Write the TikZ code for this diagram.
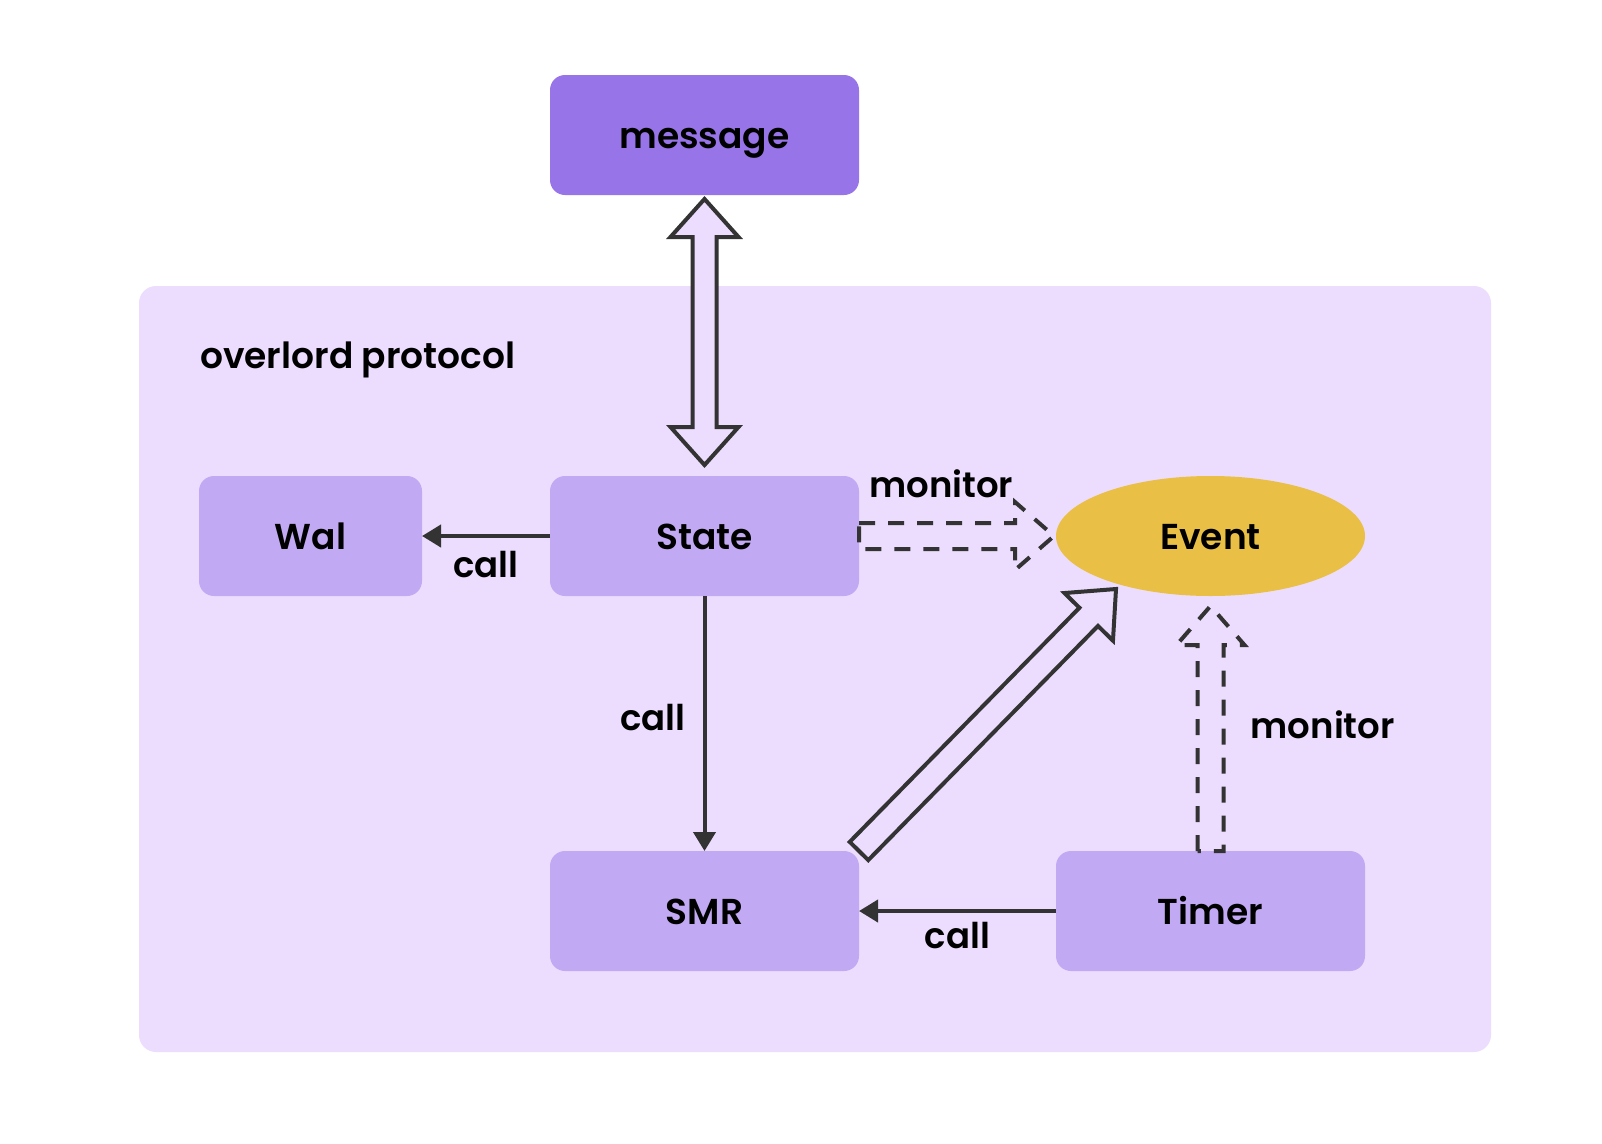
\documentclass[tikz,border=0pt]{standalone}
\usepackage{fontspec}
\setmainfont{Poppins SemiBold}
\usetikzlibrary{calc}
\usetikzlibrary{arrows.meta}
\usetikzlibrary{shapes.geometric}

\definecolor{panelbg}{HTML}{ECDDFE}
\definecolor{boxbg}{HTML}{C2A9F3}
\definecolor{msgbg}{HTML}{9775E8}
\definecolor{eventbg}{HTML}{E9BF45}
\definecolor{linegray}{HTML}{333333}

\newcommand{\boxfont}{\fontsize{36}{44}\selectfont}
\newcommand{\edgefont}{\fontsize{35.5}{42}\selectfont}

% hollow arrow from #2 to #3
\newcommand{\fatarrow}[3][]{%
  \coordinate (fa s) at (#2);
  \coordinate (fa e) at (#3);
  \coordinate (fa b) at ($(fa e)!39pt!(fa s)$);
  \draw[#1] ($(fa s)!13pt!90:(fa e)$) -- ($(fa b)!13pt!-90:(fa s)$) -- ($(fa b)!34pt!-90:(fa s)$)
    -- (fa e) -- ($(fa b)!34pt!90:(fa s)$) -- ($(fa b)!13pt!90:(fa s)$) -- ($(fa s)!13pt!-90:(fa e)$) -- cycle;
}
% hollow arrow with two heads
\newcommand{\fatdarrow}[3][]{%
  \coordinate (fa s) at (#2);
  \coordinate (fa e) at (#3);
  \coordinate (fa bs) at ($(fa s)!38pt!(fa e)$);
  \coordinate (fa be) at ($(fa e)!38pt!(fa s)$);
  \draw[#1] (fa s) -- ($(fa bs)!34pt!90:(fa e)$) -- ($(fa bs)!12pt!90:(fa e)$) -- ($(fa be)!12pt!-90:(fa s)$)
    -- ($(fa be)!34pt!-90:(fa s)$) -- (fa e) -- ($(fa be)!34pt!90:(fa s)$) -- ($(fa be)!12pt!90:(fa s)$)
    -- ($(fa bs)!12pt!-90:(fa e)$) -- ($(fa bs)!34pt!-90:(fa e)$) -- cycle;
}

\tikzset{
  box/.style={rounded corners=15pt, fill=boxbg, minimum width=309pt, minimum height=120pt, inner sep=0pt, outer sep=0pt,
    text height=26pt, text depth=0pt, font=\boxfont},
  callline/.style={linegray, line width=4pt, ->, >={Triangle[length=19pt,width=22pt]}},
  hollow/.style={linegray, line width=4pt, fill=panelbg, line join=miter},
  dashedhollow/.style={linegray, line width=4pt, dash pattern=on 16pt off 13pt},
  lbl/.style={font=\edgefont, text=black, inner sep=0pt}
}

\begin{document}
\begin{tikzpicture}[x=1pt, y=-1pt]
\useasboundingbox (0,0) rectangle (1602,1143);
\fill[white] (0,0) rectangle (1602,1143);
\fill[panelbg, rounded corners=17pt] (139,286) rectangle (1491,1052);
\node[anchor=base west, inner sep=0pt, font=\boxfont] (title) at (200,368) {overlord protocol};

\node[box, fill=msgbg] (message) at (704.5,135) {message};
\node[box] (State) at (704.5,536) {State};
\node[box, minimum width=223pt] (Wal) at (310.5,536) {Wal};
\node[box] (SMR) at (704.5,911) {SMR};
\node[box] (Timer) at (1210.5,911) {Timer};
\node[ellipse, fill=eventbg, minimum width=309pt, minimum height=120pt, inner sep=0pt, outer sep=0pt,
  text height=26pt, text depth=0pt, font=\boxfont] (Event) at (1210.5,536) {Event};

\draw[callline] (State) -- (Wal) node[lbl, midway, anchor=base, yshift=-41pt] {call};
\draw[callline] (State) -- (SMR) node[lbl, midway, anchor=base east, xshift=-17pt, yshift=-7pt] {call};
\draw[callline] (Timer) -- (SMR) node[lbl, midway, anchor=base, yshift=-37pt] {call};

\fatdarrow[hollow]{$(message.south)+(0,4)$}{$(State.north)+(0,-11)$}
\coordinate (evpt) at (1116,589);
\fatarrow[hollow]{SMR.north east}{evpt}
\fatarrow[dashedhollow]{State.east}{$(Event.west)+(-2,0)$}
\fatarrow[dashedhollow]{Timer.north}{$(Event.south)+(0,10)$}

\node[lbl, anchor=base west] (mon1) at ($(State.east)+(10,-39)$) {monitor};
\node[lbl, anchor=base west] (mon2) at ($(Timer.north)+(40,-113)$) {monitor};
\end{tikzpicture}
\end{document}
